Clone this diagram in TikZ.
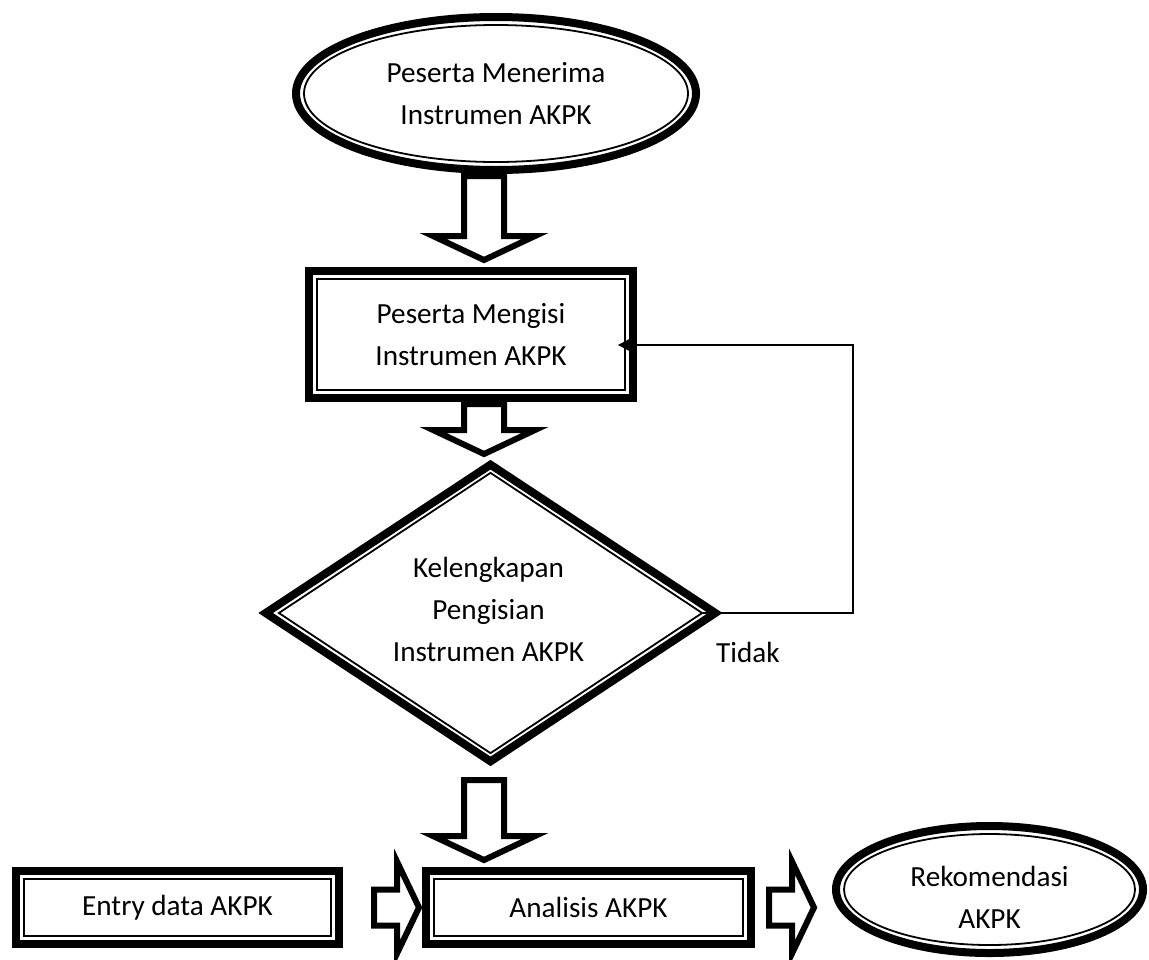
\documentclass[tikz,border=0pt]{standalone}
\usepackage{fontspec}
\setmainfont{Carlito}
\usetikzlibrary{shapes.geometric,arrows.meta,calc}

\tikzset{
  tebal/.style={draw, line width=4pt, inner sep=0pt},
  tipis/.style={draw, line width=0.9pt, inner sep=0pt, align=center, font=\fontsize{14.6}{21}\selectfont},
  teks/.style={align=center, font=\fontsize{14.6}{21}\selectfont},
  panah/.style={draw, line width=3pt, fill=white, line join=miter},
  balik/.style={line width=1pt, -{Triangle[length=6pt,width=6pt]}, shorten >=-4pt},
  turun/.pic={\draw[panah] (-20,0) -- (-20,#1-24) -- (-51,#1-24) -- (0,#1) -- (51,#1-24) -- (20,#1-24) -- (20,0) -- cycle;},
  kanan/.pic={\draw[panah] (0,-18) -- (#1-22,-18) -- (#1-22,-46) -- (#1,0) -- (#1-22,46) -- (#1-22,18) -- (0,18) -- cycle;}
}

\begin{document}
\begin{tikzpicture}[x=0.5pt, y=-0.5pt]
\useasboundingbox (0,0) rectangle (1149,959);
\coordinate (sumbu) at (484,0);

% mulai
\node[tebal, ellipse, minimum width=200pt, minimum height=76.5pt] (terima) at (496,93.5) {};
\node[tipis, ellipse, minimum width=192pt, minimum height=68.5pt] (terimaIn) at (terima) {Peserta Menerima\\Instrumen AKPK};

% mengisi
\node[tebal, minimum width=162pt, minimum height=63.5pt] (isi) at (471,334.5) {};
\node[tipis, minimum width=154pt, minimum height=55.5pt] (isiIn) at (isi) {Peserta Mengisi\\Instrumen AKPK};

% cek kelengkapan
\node[tebal, diamond, minimum width=226.5pt, minimum height=150pt] (cek) at (490.5,613) {};
\node[tipis, diamond, minimum width=212pt, minimum height=140.5pt] (cekIn) at (cek) {};
\node[teks] (cekTeks) at ($(cek)+(-2,-4)$) {Kelengkapan\\Pengisian\\Instrumen AKPK};

% baris bawah
\node[tebal, minimum width=161.5pt, minimum height=36.5pt] (entri) at (177.5,907.5) {};
\node[tipis, minimum width=153.5pt, minimum height=28.5pt] (entriIn) at (entri) {Entry data AKPK};
\node[tebal, minimum width=162.5pt, minimum height=36.5pt] (analisis) at (588.5,907.5) {};
\node[tipis, minimum width=154.5pt, minimum height=28.5pt] (analisisIn) at (analisis) {Analisis AKPK};
\node[tebal, ellipse, minimum width=153.5pt, minimum height=63.5pt] (rekom) at (989.5,889.5) {};
\node[tipis, ellipse, minimum width=145.5pt, minimum height=55.5pt] (rekomIn) at (rekom) {};
\node[teks] (rekomTeks) at ($(rekom)+(0,8)$) {Rekomendasi\\AKPK};

% panah blok
\pic at ($(sumbu |- terima.south)+(0,2)$) {turun=84};
\pic at ($(sumbu |- isi.south)+(0,2)$) {turun=50};
\pic at ($(sumbu |- cek.south)+(0,13)$) {turun=80};
\pic at ($(entri.east)+(31,0)$) {kanan=45};
\pic at ($(analisis.east)+(14,0)$) {kanan=45};

% tidak lengkap
\coordinate (sudut) at (853,345);
\draw[balik] (cekIn.east) -| (sudut) -- (isiIn.east |- sudut);
\node[teks] (tidak) at (748,652) {Tidak};
\end{tikzpicture}
\end{document}
